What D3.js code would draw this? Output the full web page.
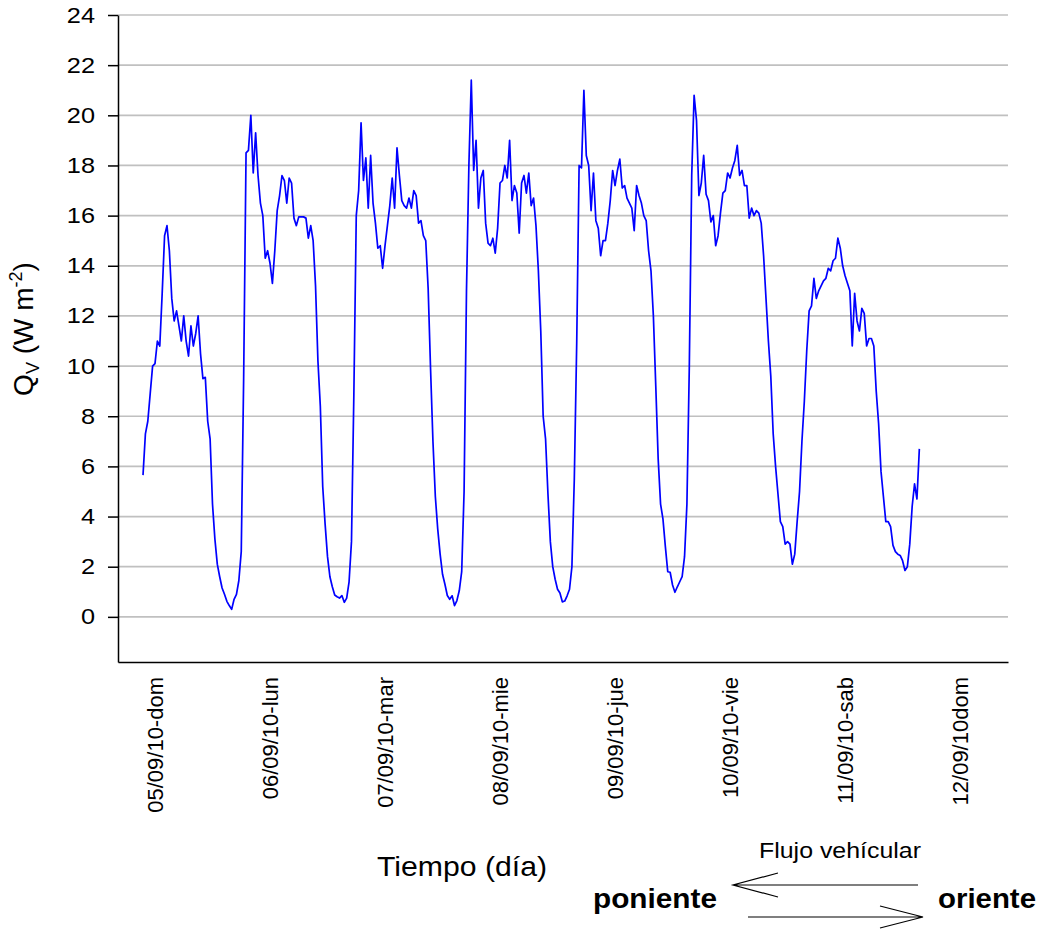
<!DOCTYPE html>
<html>
<head>
<meta charset="utf-8">
<title>Qv</title>
<script src="https://cdn.jsdelivr.net/npm/d3@7"></script>
<style>
  body { margin: 0; background: #fff; }
  svg text { font-family: "Liberation Sans", Arial, sans-serif; fill: #000; }
</style>
</head>
<body>
<script>

// Qv, half-hourly values, one array per day (from 00:00)
var qv05 = [5.65, 7.3, 7.8, 8.9, 10.0, 10.1, 11.0, 10.8, 12.9, 15.2, 15.6, 14.6, 12.7, 11.8, 12.2,
            11.6, 11.0, 12.0, 11.0, 10.4, 11.6, 10.8, 11.3, 12.0, 10.5, 9.5, 9.55, 7.8, 7.1];
var qv06 = [4.5, 3.1, 2.1, 1.6, 1.15, 0.9, 0.62, 0.45, 0.3, 0.7, 0.9, 1.45, 2.6, 9.5, 18.5, 18.6,
            20.0, 17.7, 19.3, 17.6, 16.5, 16.0, 14.3, 14.6, 14.1, 13.3, 14.6, 16.2, 16.8, 17.6, 17.4,
            16.5, 17.5, 17.3, 15.9, 15.6, 15.95, 15.95, 15.95, 15.9, 15.1, 15.6, 15.0, 13.2, 10.2,
            8.4, 5.2, 3.7];
var qv07 = [2.4, 1.6, 1.2, 0.87, 0.8, 0.75, 0.85, 0.58, 0.75, 1.4, 3.0, 8.9, 16.0, 17.0, 19.7, 17.4,
            18.3, 16.3, 18.4, 16.5, 15.7, 14.7, 14.8, 13.9, 14.8, 15.6, 16.4, 17.5, 16.3, 18.7, 17.6,
            16.6, 16.4, 16.3, 16.7, 16.3, 17.0, 16.8, 15.7, 15.8, 15.2, 15.0, 13.1, 9.9, 7.0, 4.8,
            3.5, 2.5];
var qv08 = [1.7, 1.3, 0.85, 0.7, 0.84, 0.45, 0.65, 1.05, 1.8, 5.0, 13.0, 18.0, 21.4, 17.8, 19.0,
            16.3, 17.5, 17.8, 15.7, 14.9, 14.8, 15.1, 14.5, 15.5, 17.3, 17.4, 18.0, 17.5, 19.0, 16.6,
            17.2, 16.9, 15.3, 17.3, 17.6, 16.9, 17.7, 16.4, 16.7, 15.6, 13.8, 11.4, 8.0, 7.1, 4.9,
            3.0, 2.0, 1.5];
var qv09 = [1.1, 0.95, 0.6, 0.63, 0.84, 1.1, 2.0, 5.5, 10.9, 18.0, 17.9, 21.0, 18.4, 18.0, 16.2,
            17.7, 15.8, 15.5, 14.4, 15.0, 15.0, 15.7, 16.6, 17.8, 17.2, 17.8, 18.25, 17.1, 17.2, 16.7,
            16.5, 16.3, 15.4, 17.2, 16.8, 16.5, 16.0, 15.8, 14.6, 13.8, 12.0, 9.2, 6.3, 4.5, 3.9,
            2.8, 1.8, 1.78];
var qv10 = [1.27, 0.98, 1.2, 1.4, 1.6, 2.4, 4.5, 10.0, 17.6, 20.8, 19.8, 16.8, 17.3, 18.4, 16.85,
            16.6, 15.75, 16.0, 14.8, 15.2, 16.1, 16.9, 17.0, 17.7, 17.5, 17.9, 18.2, 18.8, 17.6, 17.8,
            17.2, 17.2, 15.9, 16.3, 16.0, 16.2, 16.1, 15.7, 14.4, 12.7, 11.0, 9.6, 7.3, 6.0, 4.9,
            3.8, 3.6, 2.9];
var qv11 = [3.0, 2.9, 2.1, 2.5, 3.8, 5.0, 7.0, 8.6, 10.6, 12.2, 12.4, 13.5, 12.7, 13.0, 13.2, 13.4,
            13.5, 13.9, 13.8, 14.2, 14.3, 15.1, 14.7, 14.0, 13.6, 13.3, 13.0, 10.8, 12.9, 11.8, 11.4,
            12.3, 12.1, 10.8, 11.1, 11.1, 10.8, 9.0, 7.7, 5.8, 4.8, 3.8, 3.8, 3.6, 2.85, 2.6, 2.5,
            2.45];
var qv12 = [2.24, 1.85, 2.0, 2.9, 4.4, 5.3, 4.7, 6.7];

// hour (from 05/09 00:00) of the first value of each array
var dayStart = [9.5, 24, 48, 72, 96, 120, 144, 168];
var stepHours = 0.5;

var dayLabels = ["05/09/10-dom", "06/09/10-lun", "07/09/10-mar", "08/09/10-mie",
                 "09/09/10-jue", "10/09/10-vie", "11/09/10-sab", "12/09/10dom"];
var labelHours = [12, 36, 60, 84, 108, 132, 156, 180];
var yTicks = [0, 2, 4, 6, 8, 10, 12, 14, 16, 18, 20, 22, 24];

var w = 1037, h = 930;
var plotLeft = 118, plotRight = 1008, plotTop = 15, plotBottom = 662;

var svg = d3.select("body").append("svg")
            .attr("width", w)
            .attr("height", h);

var x = d3.scaleLinear().domain([4.28, 190.0]).range([plotLeft, plotRight]);
var y = d3.scaleLinear().domain([-1.8, 24]).range([plotBottom, plotTop]);

// gridlines
svg.append("g").selectAll("line")
   .data(yTicks)
   .enter()
   .append("line")
   .attr("x1", plotLeft)
   .attr("x2", plotRight)
   .attr("y1", function(d) { return y(d); })
   .attr("y2", function(d) { return y(d); })
   .attr("stroke", "#c0c0c0")
   .attr("stroke-width", 1.7);

// build the series
var points = [];
[qv05, qv06, qv07, qv08, qv09, qv10, qv11, qv12].forEach(function(vals, d) {
  vals.forEach(function(v, i) {
    points.push({ t: dayStart[d] + i * stepHours, v: v });
  });
});

svg.append("path")
   .datum(points)
   .attr("d", d3.line()
                .x(function(d) { return x(d.t); })
                .y(function(d) { return y(d.v); }))
   .attr("fill", "none")
   .attr("stroke", "#0000ff")
   .attr("stroke-width", 1.7)
   .attr("stroke-linejoin", "round");

// Y axis
var yAxis = svg.append("g")
   .attr("transform", "translate(" + plotLeft + ",0)")
   .call(d3.axisLeft(y)
           .tickValues(yTicks)
           .tickSize(10)
           .tickSizeOuter(0)
           .tickPadding(13));
yAxis.attr("font-family", null).attr("font-size", 22);
yAxis.select(".domain").attr("stroke", "#000").attr("stroke-width", 1.5);
yAxis.selectAll(".tick line").attr("stroke", "#000").attr("stroke-width", 1.5);
yAxis.selectAll(".tick text").each(function() {
  var len = this.getComputedTextLength();
  d3.select(this).attr("textLength", len * 1.15).attr("lengthAdjust", "spacingAndGlyphs");
});

// X axis
var xAxis = svg.append("g")
   .attr("transform", "translate(0," + plotBottom + ")")
   .call(d3.axisBottom(x)
           .tickValues(labelHours)
           .tickFormat(function(d, i) { return dayLabels[i]; })
           .tickSize(0)
           .tickSizeOuter(0));
xAxis.attr("font-family", null).attr("font-size", 22);
xAxis.select(".domain").attr("stroke", "#000").attr("stroke-width", 1.5);
xAxis.selectAll(".tick text")
     .attr("transform", "rotate(-90)")
     .attr("text-anchor", "end")
     .attr("x", -15)
     .attr("y", 0)
     .attr("dy", "0.35em");

// axis titles
var yTitle = svg.append("text")
   .attr("transform", "translate(33,329) rotate(-90)")
   .attr("text-anchor", "middle")
   .attr("font-size", 28);
yTitle.append("tspan").text("Q");
yTitle.append("tspan").attr("font-size", 18).attr("dy", 6).text("V");
yTitle.append("tspan").attr("dy", -6).text(" (W m");
yTitle.append("tspan").attr("font-size", 18).attr("dy", -11).text("-2");
yTitle.append("tspan").attr("dy", 11).text(")");

svg.append("text")
   .attr("x", 377)
   .attr("y", 876)
   .attr("font-size", 28)
   .attr("textLength", 170)
   .attr("lengthAdjust", "spacingAndGlyphs")
   .text("Tiempo (día)");

// traffic direction note
svg.append("text")
   .attr("x", 759)
   .attr("y", 858)
   .attr("font-size", 22)
   .attr("textLength", 162)
   .attr("lengthAdjust", "spacingAndGlyphs")
   .text("Flujo vehícular");

svg.append("text")
   .attr("x", 593)
   .attr("y", 908)
   .attr("font-size", 28)
   .attr("font-weight", "bold")
   .attr("textLength", 124)
   .attr("lengthAdjust", "spacingAndGlyphs")
   .text("poniente");

svg.append("text")
   .attr("x", 938)
   .attr("y", 908)
   .attr("font-size", 28)
   .attr("font-weight", "bold")
   .attr("textLength", 98)
   .attr("lengthAdjust", "spacingAndGlyphs")
   .text("oriente");

var arrows = svg.append("g")
   .attr("fill", "none")
   .attr("stroke", "#000")
   .attr("stroke-width", 1.2);
arrows.append("path").attr("d", "M918,885H733M778,873L733,885L778,897");
arrows.append("path").attr("d", "M748,917H923M880,906L923,917L880,928");

</script>
</body>
</html>
